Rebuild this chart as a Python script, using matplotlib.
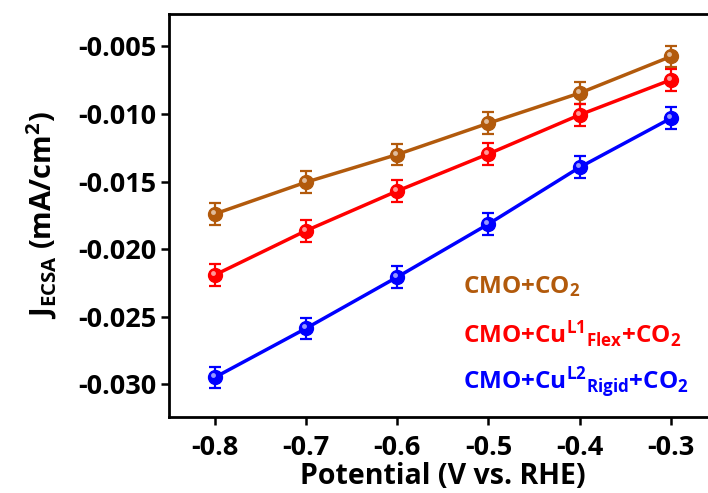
import numpy as np
import matplotlib
matplotlib.use("Agg")
import matplotlib.pyplot as plt
import matplotlib.transforms as mtransforms

plt.rcParams["font.family"] = ["Open Sans", "DejaVu Sans"]
plt.rcParams["font.weight"] = "bold"
plt.rcParams["mathtext.fontset"] = "custom"
plt.rcParams["mathtext.rm"] = "Open Sans:bold"
plt.rcParams["mathtext.it"] = "Open Sans:bold"
plt.rcParams["mathtext.bf"] = "Open Sans:bold"

# data
potential = [-0.8, -0.7, -0.6, -0.5, -0.4, -0.3]
j_cmo = [-0.0174, -0.01505, -0.0130, -0.01068, -0.00845, -0.00574]
j_flex = [-0.02192, -0.01864, -0.0157, -0.01295, -0.01006, -0.00747]
j_rigid = [-0.0295, -0.02587, -0.02207, -0.01814, -0.01394, -0.01031]
err = [0.0008] * 6

series = [
    (j_cmo, "#B25A0C", r"CMO+CO$_{2}$"),
    (j_flex, "#FF0000", r"CMO+Cu$^{L1}{}_{Flex}$+CO$_{2}$"),
    (j_rigid, "#0000FF", r"CMO+Cu$^{L2}{}_{Rigid}$+CO$_{2}$"),
]
text_y = [0.306, 0.183, 0.071]

fig = plt.figure(figsize=(7.08, 4.93), dpi=100)
ax = fig.add_axes([0.2386, 0.1548, 0.7737, 0.8168])

for (vals, col, lab), ty in zip(series, text_y):
    ax.errorbar(potential, vals, yerr=err, color=col, lw=2.5, elinewidth=1.6,
                capsize=4.5, capthick=1.6, marker="o", ms=10, mfc=col,
                mec=col, zorder=3)
    # small highlight to mimic the shaded sphere markers
    off = mtransforms.ScaledTranslation(-2 / 100, 2 / 100, fig.dpi_scale_trans)
    ax.plot(potential, vals, ls="none", marker="o", ms=3.5, mfc="white",
            mec="none", alpha=0.6, transform=ax.transData + off, zorder=4)
    ax.text(0.537, ty, lab, color=col, fontsize=17.5, fontweight="bold",
            transform=ax.transAxes, va="baseline", ha="left")

ax.set_xlim(-0.85, -0.25)
ax.set_ylim(-0.0324, -0.0026)
ax.set_xticks(potential)
ax.set_xticklabels(["-0.8", "-0.7", "-0.6", "-0.5", "-0.4", "-0.3"])
ax.set_yticks([-0.005, -0.010, -0.015, -0.020, -0.025, -0.030])
ax.set_yticklabels(["-0.005", "-0.010", "-0.015", "-0.020", "-0.025", "-0.030"])
ax.tick_params(direction="out", length=6, width=1.8, labelsize=19.5, pad=3)
ax.tick_params(axis="x", pad=7)
for s in ax.spines.values():
    s.set_linewidth(2)

ax.set_xlabel("Potential (V vs. RHE)", fontsize=20.5, fontweight="bold", labelpad=1)
ax.set_ylabel(r"J$_{ECSA}$ (mA/cm$^{2}$)", fontsize=21, fontweight="bold", labelpad=14)

fig.savefig("out.png", dpi=100)
